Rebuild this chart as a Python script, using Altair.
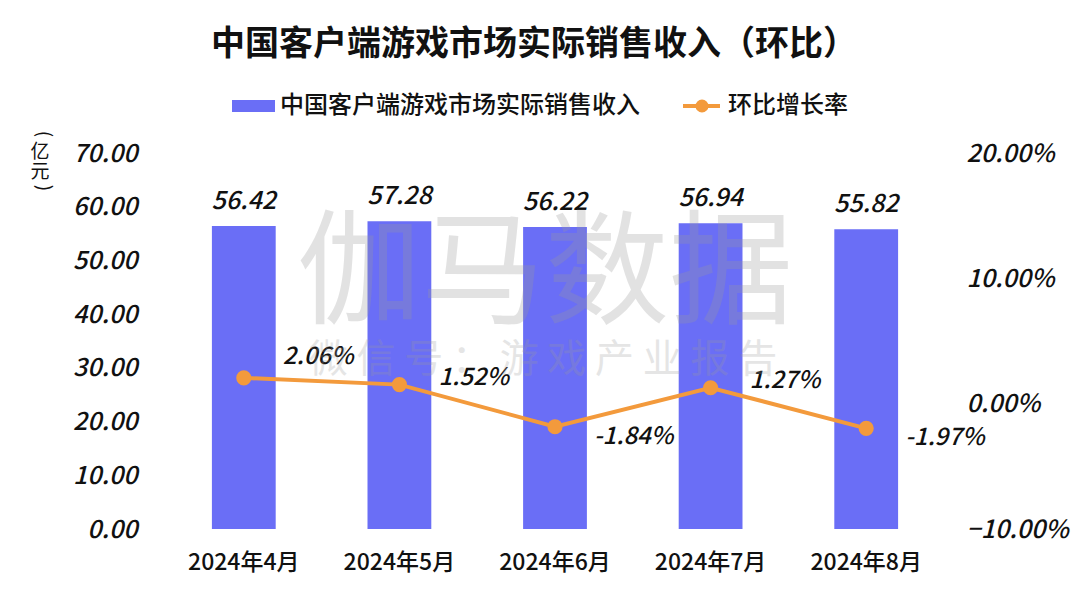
import altair as alt
import pandas as pd

months = ["2024年4月", "2024年5月", "2024年6月", "2024年7月", "2024年8月"]
revenue = [56.42, 57.28, 56.22, 56.94, 55.82]
mom = [0.0206, 0.0152, -0.0184, 0.0127, -0.0197]

title_text = "中国客户端游戏市场实际销售收入（环比）"
bar_name = "中国客户端游戏市场实际销售收入"
line_name = "环比增长率"
wm_main = "伽马数据"
wm_sub = "微 信 号 ： 游 戏 产 业 报 告"

BAR = "#6A6EF6"
ORANGE = "#F39A3C"
FONT = "Noto Sans CJK SC"
NUM = 25

df = pd.DataFrame({"month": months, "revenue": revenue, "mom": mom})
df["rev_label"] = [f"{v:.2f}" for v in revenue]
df["mom_label"] = [f"{v*100:.2f}%" for v in mom]
one = pd.DataFrame({"k": [0]})

W, H = 778, 376

xenc = alt.X("month:N", sort=months, title=None,
             scale=alt.Scale(paddingInner=0.59, paddingOuter=0.295),
             axis=alt.Axis(labelAngle=0, labelFontSize=23, labelFont=FONT, labelFontWeight=500,
                           labelColor="#111", labelPadding=22, ticks=False, domain=False))

yleft = alt.Y("revenue:Q", title=None,
              scale=alt.Scale(domain=[0, 70]),
              axis=alt.Axis(values=[0, 10, 20, 30, 40, 50, 60, 70], format=".2f", grid=False,
                            ticks=False, domain=False, labelFontSize=NUM, labelFont=FONT,
                            labelFontWeight=500,
                            labelFontStyle="italic", labelColor="#111", labelPadding=29))

base = alt.Chart(df)
bars = base.mark_bar(color=BAR).encode(x=xenc, y=yleft)
bar_labels = base.mark_text(baseline="bottom", dy=-12, fontSize=NUM, font=FONT, fontWeight=500,
                            fontStyle="italic", color="#111").encode(
    x=xenc, y=yleft, text="rev_label:N")
left = alt.layer(bars, bar_labels)

yright = alt.Y("mom:Q", title=None,
               scale=alt.Scale(domain=[-0.1, 0.2]),
               axis=alt.Axis(orient="right", values=[-0.1, 0, 0.1, 0.2], format=".2%", grid=False,
                             ticks=False, domain=False, labelFontSize=NUM, labelFont=FONT,
                             labelFontWeight=500,
                             labelFontStyle="italic", labelColor="#111", labelAlign="left",
                             labelPadding=22))
line = base.mark_line(color=ORANGE, strokeWidth=4).encode(x=xenc, y=yright)
pts = base.mark_point(color=ORANGE, filled=True, opacity=1, size=230).encode(x=xenc, y=yright)
lab_kw = dict(align="left", fontSize=24, font=FONT, fontWeight=500, fontStyle="italic",
              color="#111", dx=39)
enc_lab = dict(x=xenc, y=yright, text="mom_label:N")
lab_first = base.mark_text(dy=-21, **lab_kw).encode(**enc_lab).transform_filter(
    alt.datum.month == months[0])
lab_pos = base.mark_text(dy=-7, **lab_kw).encode(**enc_lab).transform_filter(
    (alt.datum.mom >= 0) & (alt.datum.month != months[0]))
lab_neg = base.mark_text(dy=10, **lab_kw).encode(**enc_lab).transform_filter(alt.datum.mom < 0)
right = alt.layer(line, pts, lab_first, lab_pos, lab_neg)

deco = alt.Chart(one)
title = deco.mark_text(fontSize=34, fontWeight="bold", font=FONT, color="#111",
                       baseline="middle").encode(x=alt.value(368), y=alt.value(-108),
                                                 text=alt.value(title_text))
leg_rect = deco.mark_rect(color=BAR).encode(x=alt.value(66), x2=alt.value(109),
                                            y=alt.value(-53), y2=alt.value(-41))
leg_t1 = deco.mark_text(align="left", baseline="middle", fontSize=24, font=FONT, fontWeight=500,
                        color="#111").encode(x=alt.value(114), y=alt.value(-47),
                                             text=alt.value(bar_name))
leg_line = deco.mark_rule(color=ORANGE, strokeWidth=4).encode(x=alt.value(517), x2=alt.value(554),
                                                              y=alt.value(-47))
leg_pt = deco.mark_point(color=ORANGE, filled=True, opacity=1, size=170).encode(
    x=alt.value(536), y=alt.value(-47))
leg_t2 = deco.mark_text(align="left", baseline="middle", fontSize=24, font=FONT, fontWeight=500,
                        color="#111").encode(x=alt.value(562), y=alt.value(-47),
                                             text=alt.value(line_name))

ukw = dict(align="center", baseline="middle", fontSize=19, font=FONT, color="#111")
u_open = deco.mark_text(angle=90, **ukw).encode(x=alt.value(-122), y=alt.value(-19),
                                                text=alt.value("("))
u_yi = deco.mark_text(**ukw).encode(x=alt.value(-126), y=alt.value(-1), text=alt.value("亿"))
u_yuan = deco.mark_text(**ukw).encode(x=alt.value(-126), y=alt.value(19), text=alt.value("元"))
u_close = deco.mark_text(angle=90, **ukw).encode(x=alt.value(-122), y=alt.value(35),
                                                 text=alt.value(")"))

wm1 = deco.mark_text(fontSize=124, font=FONT, color="#9a9a9a", opacity=0.28,
                     baseline="middle").encode(x=alt.value(379), y=alt.value(124),
                                               text=alt.value(wm_main))
wm2 = deco.mark_text(fontSize=39, font=FONT, color="#9a9a9a", opacity=0.25,
                     baseline="middle").encode(x=alt.value(377), y=alt.value(207),
                                               text=alt.value(wm_sub))

chart = alt.layer(left, right, title, leg_rect, leg_t1, leg_line, leg_pt, leg_t2,
                  u_open, u_yi, u_yuan, u_close, wm1, wm2
                  ).resolve_scale(y="independent").properties(
    width=W, height=H,
    background="white",
    autosize=alt.AutoSizeParams(type="none"),
    padding={"left": 158, "top": 145, "right": 128, "bottom": 60},
).configure_view(stroke=None)

chart.save("out.html", embed_options={"renderer": "svg", "actions": False})
